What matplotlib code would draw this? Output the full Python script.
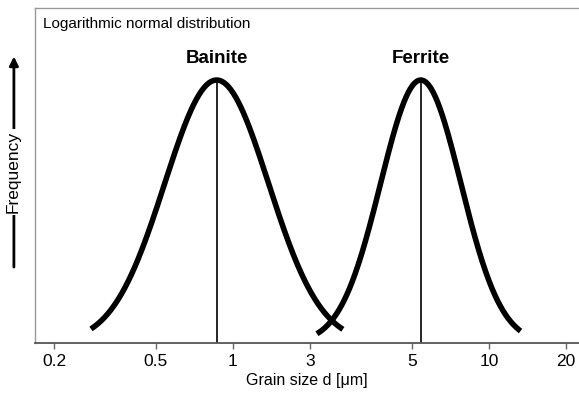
import numpy as np
import matplotlib
matplotlib.use("Agg")
import matplotlib.pyplot as plt

plt.rcParams['font.family'] = ['Liberation Sans', 'DejaVu Sans']

# tick positions (grain size, um) and the labels printed under them
tick_vals = [0.2, 0.5, 1, 2, 5, 10, 20]
tick_labels = ["0.2", "0.5", "1", "3", "5", "10", "20"]

# log-normal phases: name, median size (um), log10 spread, drawn range
phases = ["Bainite", "Ferrite"]
medians = [0.864, 5.42]
spreads = [0.203, 0.157]
d_min = [0.279, 2.13]
d_max = [2.69, 13.3]

fig = plt.figure(figsize=(5.79, 3.98), dpi=100)
ax = fig.add_axes([0.0604, 0.138, 0.9396, 0.842])

for name, mu, s, lo, hi in zip(phases, medians, spreads, d_min, d_max):
    d = np.logspace(np.log10(lo), np.log10(hi), 300)
    f = np.exp(-(np.log10(d) - np.log10(mu)) ** 2 / (2 * s ** 2))
    ax.plot(d, f, color="black", lw=4, solid_capstyle="butt")
    ax.plot([mu, mu], [0, 1], color="black", lw=1.2)
    ax.text(mu, 1.08, name, ha="center", va="center", fontsize=13.5,
            fontweight="bold")

ax.set_xscale("log")
ax.set_xlim(0.1686, 22.5)
ax.set_ylim(0, 1.274)
ax.set_xticks(tick_vals)
ax.set_xticklabels(tick_labels, fontsize=12.5)
ax.minorticks_off()
ax.set_yticks([])
ax.tick_params(axis="x", direction="out", length=4, width=1, color="#666666",
               pad=4)
ax.set_xlabel("Grain size d [\u03bcm]", fontsize=11.5, labelpad=3)

for side in ["left", "top"]:
    ax.spines[side].set_color("#999999")
    ax.spines[side].set_linewidth(1)
ax.spines["right"].set_visible(False)
ax.spines["bottom"].set_color("#555555")
ax.spines["bottom"].set_linewidth(1.3)

ax.text(0.014, 0.952, "Logarithmic normal distribution", transform=ax.transAxes,
        ha="left", va="center", fontsize=11)

# y axis: arrow with the label written across it
fig.patches.append(matplotlib.patches.FancyArrowPatch(
    (0.024, 0.322), (0.024, 0.865), transform=fig.transFigure,
    arrowstyle="-|>", mutation_scale=13, lw=2, color="black"))
fig.text(0.022, 0.568, "Frequency", rotation=90, ha="center", va="center",
         fontsize=12.5, bbox=dict(facecolor="white", edgecolor="none", pad=1.5))

fig.savefig("out.png", dpi=100)
